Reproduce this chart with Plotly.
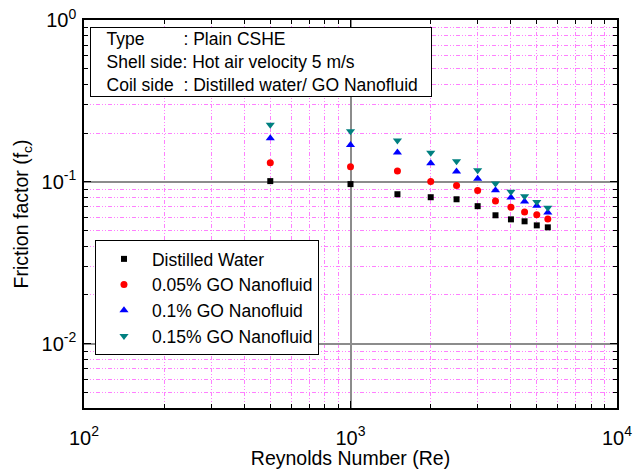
import numpy as np
import plotly.graph_objects as go

# Reynolds numbers of the test runs
reynolds = [500, 1000, 1500, 2000, 2500, 3000, 3500, 4000, 4500, 5000, 5500]

# Friction factor for each working fluid
f_water = [0.101, 0.0968, 0.0838, 0.0803, 0.078, 0.0707, 0.0621, 0.0586, 0.057, 0.0538, 0.0523]
f_go005 = [0.131, 0.124, 0.1165, 0.1004, 0.0948, 0.0883, 0.0762, 0.0696, 0.0651, 0.0626, 0.0589]
f_go010 = [0.186, 0.169, 0.152, 0.130, 0.116, 0.1044, 0.0888, 0.080, 0.0755, 0.071, 0.0645]
f_go015 = [0.225, 0.205, 0.180, 0.151, 0.134, 0.118, 0.0977, 0.0867, 0.0815, 0.0751, 0.0692]

series_names = ["Distilled Water", "0.05% GO Nanofluid", "0.1% GO Nanofluid", "0.15% GO Nanofluid"]

x_major = [100, 1000, 10000]
x_major_text = ["10<sup>2</sup>", "10<sup>3</sup>", "10<sup>4</sup>"]
y_major = [0.01, 0.1, 1]
y_major_text = ["10<sup>-2</sup>", "10<sup>-1</sup>", "10<sup>0</sup>"]

x_minor = [m * d for d in (100, 1000) for m in range(2, 10)]
y_minor = [m * d for d in (0.001, 0.01, 0.1) for m in range(2, 10)]
y_minor = [v for v in y_minor if v >= 0.004]

styles = [
    dict(symbol="square", color="#000000", size=6),
    dict(symbol="circle", color="#FF0000", size=7),
    dict(symbol="triangle-up", color="#0000FF", size=8),
    dict(symbol="triangle-down", color="#008080", size=8),
]

fig = go.Figure()
for name, ys, st in zip(series_names, [f_water, f_go005, f_go010, f_go015], styles):
    fig.add_trace(go.Scatter(
        x=reynolds, y=ys, mode="markers", name=name,
        marker=dict(symbol=st["symbol"], color=st["color"], size=st["size"], line=dict(width=0)),
    ))

font_family = "Liberation Sans, Arial, sans-serif"
minor_dash = "4px,2px,1px,2px,1px,2px"
nb = "\u00a0"

axis_common = dict(
    type="log",
    automargin=False,
    showline=True, linecolor="black", linewidth=1.5, mirror="allticks",
    ticks="inside", ticklen=7, tickwidth=1.2, tickcolor="black",
    showgrid=True, gridcolor="#8c8c8c", gridwidth=1.5,
    zeroline=False,
    tickfont=dict(family=font_family, size=20, color="black"),
    title_font=dict(family=font_family, size=19.5, color="black"),
)

fig.update_xaxes(
    **axis_common,
    range=[2, 4],
    tickmode="array", tickvals=x_major, ticktext=x_major_text,
    ticklabelstandoff=11,
    minor=dict(tickmode="array", tickvals=x_minor, ticks="inside", ticklen=4,
               tickcolor="black", tickwidth=1, showgrid=True,
               gridcolor="#FF80FF", griddash=minor_dash, gridwidth=1),
    title=dict(text="Reynolds Number (Re)", standoff=5),
)
fig.update_yaxes(
    **axis_common,
    range=[np.log10(0.004), 0],
    tickmode="array", tickvals=y_major, ticktext=y_major_text,
    ticklabelstandoff=2,
    minor=dict(tickmode="array", tickvals=y_minor, ticks="inside", ticklen=4,
               tickcolor="black", tickwidth=1, showgrid=True,
               gridcolor="#FF80FF", griddash=minor_dash, gridwidth=1),
    title=dict(text="Friction factor (f<sub>c</sub>)", standoff=8),
)

fig.add_annotation(
    xref="paper", yref="paper", x=0.011, y=0.982, xanchor="left", yanchor="top",
    text=(nb * 3 + "Type" + nb * 8 + ": Plain CSHE<br>"
          + nb * 3 + "Shell side: Hot air velocity 5 m/s<br>"
          + nb * 3 + "Coil side" + nb * 2 + ": Distilled water/ GO Nanofluid"),
    align="left", showarrow=False,
    font=dict(family=font_family, size=17.5, color="black"),
    bordercolor="black", borderwidth=1, borderpad=1, bgcolor="white",
    width=338,
)

fig.update_layout(
    width=644, height=469,
    margin=dict(l=84, r=27, t=20, b=61),
    paper_bgcolor="white", plot_bgcolor="white",
    font=dict(family=font_family, size=17.5, color="black"),
    legend=dict(
        x=0.0206, y=0.433, xanchor="left", yanchor="top",
        bordercolor="black", borderwidth=1, bgcolor="white",
        font=dict(family=font_family, size=17.5, color="black"),
        itemwidth=46, tracegroupgap=0,
    ),
)

fig.write_html("out.html")
